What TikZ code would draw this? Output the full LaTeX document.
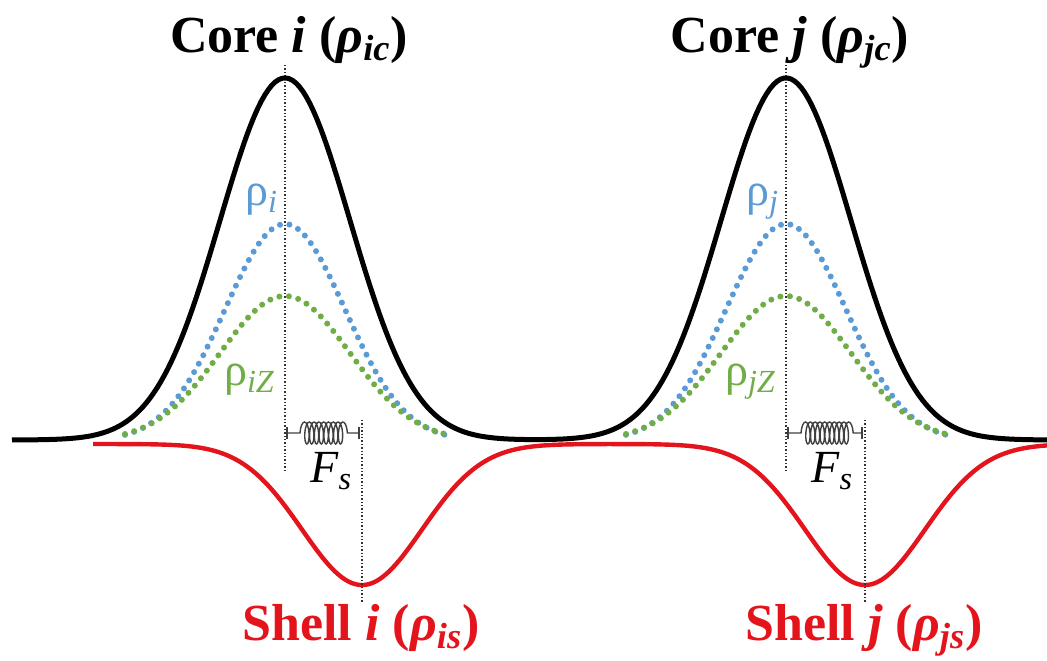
\documentclass[tikz,border=0pt]{standalone}
\usepackage{fontspec}
\setmainfont{Liberation Serif}
\usetikzlibrary{decorations.pathmorphing}
\definecolor{rhoblue}{HTML}{5B9BD5}
\definecolor{rhogreen}{HTML}{70AD47}
\definecolor{shellred}{HTML}{E3141C}

\begin{document}
\begin{tikzpicture}[x=0.5pt, y=-0.5pt,
    declare function={gs(\xa,\xc,\xs)=exp(-0.5*((\xa-\xc)/\xs)^2);},
    guide/.style={densely dotted, line width=0.7pt, black!80},
    dotcurve/.style={line width=3pt, line cap=round, dash pattern=on 0pt off 4.8pt},
    spring/.style={gray!50!black, line width=0.7pt, decorate,
        decoration={coil, amplitude=5.5pt, segment length=2.4pt, aspect=0.3,
            pre length=6.5pt, post length=4pt}},
    title/.style={font=\fontsize{26}{30}\selectfont\bfseries, anchor=base},
    rholabel/.style={font=\fontsize{23}{27}\selectfont, anchor=base west}]

    \useasboundingbox (0,0) rectangle (1047,660);

    % Shells (drawn first, core goes on top)
    \draw[shellred, line width=2.2pt] plot[domain=93:1047, samples=300]
        (\x, {444+141*(gs(\x,362,60)+gs(\x,865,60))});

    \foreach \n/\cx/\sx in {i/285/362, j/786/865} {
        % Guide lines through core peak and shell minimum
        \coordinate (top-\n) at (\cx,65);
        \coordinate (bot-\n) at (\cx,472);
        \coordinate (stop-\n) at (\sx,420);
        \coordinate (sbot-\n) at (\sx,603);
        \draw[guide] (top-\n) -- (bot-\n);
        \draw[guide] (stop-\n) -- (sbot-\n);

        % Partial densities (dotted)
        \draw[dotcurve, rhoblue] plot[domain=\cx-160:\cx+160, samples=120]
            (\x, {441-217*gs(\x,\cx,60)});
        \draw[dotcurve, rhogreen] plot[domain=\cx-160:\cx+160, samples=120]
            (\x, {441-145*gs(\x,\cx,65)});

        % Spring between core and shell
        \coordinate (sa-\n) at (\cx+2,433);
        \coordinate (sb-\n) at (\sx-3,433);
        \draw[spring] (sa-\n) -- (sb-\n);
        \draw[gray!50!black, line width=0.7pt] ([yshift=3pt]sa-\n) -- ([yshift=-3pt]sa-\n);
        \draw[gray!50!black, line width=0.7pt] ([yshift=3pt]sb-\n) -- ([yshift=-3pt]sb-\n);

        % Labels
        \node[title] (core-\n) at (\cx+4,52)
            {Core \textit{\n} (\textit{ρ}\textsubscript{\textit{\n c}})};
        \node[title, shellred] (shell-\n) at (\sx-1,640)
            {Shell \textit{\n} (\textit{ρ}\textsubscript{\textit{\n s}})};
        \node[rholabel, rhoblue] (rho-\n) at (\cx-47,205)
            {ρ\textsubscript{\textit{\n}}};
        \node[rholabel, rhogreen] (rhoz-\n) at (\cx-68,385)
            {ρ\textsubscript{\textit{\n Z}}};
        \node[rholabel] (fs-\n) at (\cx+18,482)
            {\textit{F}\textsubscript{\textit{s}}};
    }

    % Cores
    \draw[black, line width=2.5pt] plot[domain=12:1047, samples=300]
        (\x, {440-362*(gs(\x,285,65)+gs(\x,786,65))});

\end{tikzpicture}
\end{document}
